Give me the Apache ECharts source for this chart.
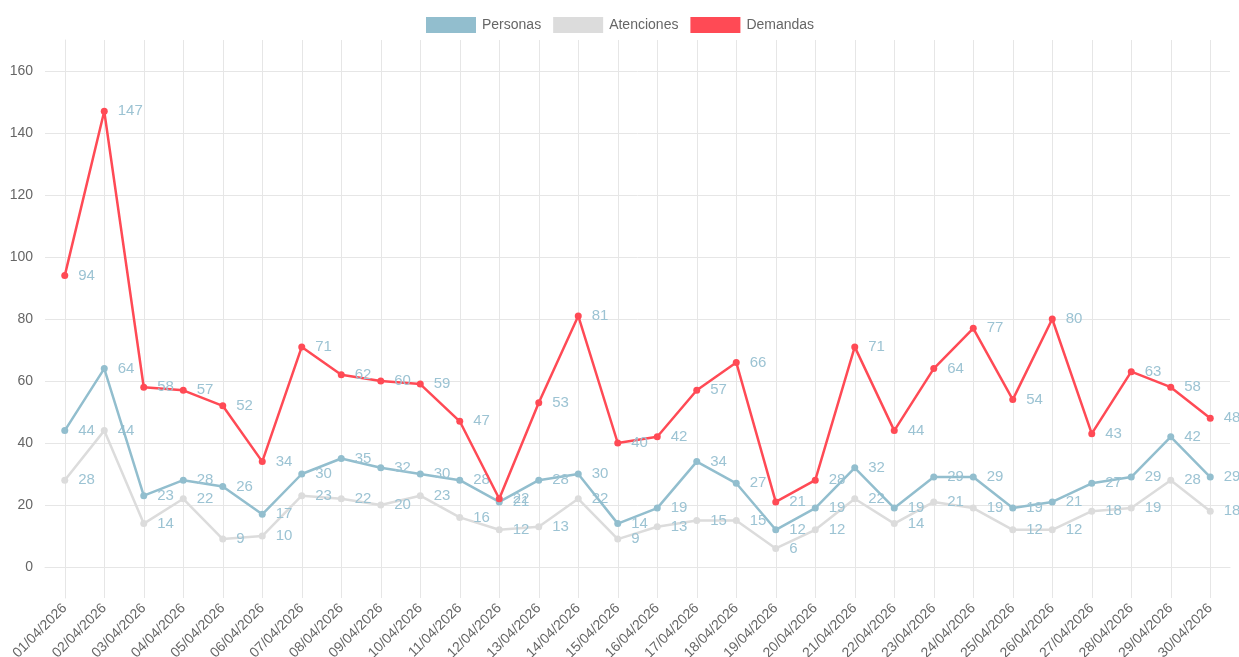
<!DOCTYPE html>
<html>
<head>
<meta charset="utf-8">
<script src="https://cdn.jsdelivr.net/npm/echarts@6/dist/echarts.min.js"></script>
<style>
  html, body { margin: 0; padding: 0; background: #fff; }
  #chart { width: 1239px; height: 657px; }
</style>
</head>
<body>
<div id="chart"></div>
<script>
var dates = ['01/04/2026', '02/04/2026', '03/04/2026', '04/04/2026', '05/04/2026', '06/04/2026',
    '07/04/2026', '08/04/2026', '09/04/2026', '10/04/2026', '11/04/2026', '12/04/2026',
    '13/04/2026', '14/04/2026', '15/04/2026', '16/04/2026', '17/04/2026', '18/04/2026',
    '19/04/2026', '20/04/2026', '21/04/2026', '22/04/2026', '23/04/2026', '24/04/2026',
    '25/04/2026', '26/04/2026', '27/04/2026', '28/04/2026', '29/04/2026', '30/04/2026'];
var personas = [44, 64, 23, 28, 26, 17, 30, 35, 32, 30, 28, 21, 28, 30, 14, 19, 34, 27, 12, 19, 32, 19, 29, 29, 19, 21, 27, 29, 42, 29];
var atenciones = [28, 44, 14, 22, 9, 10, 23, 22, 20, 23, 16, 12, 13, 22, 9, 13, 15, 15, 6, 12, 22, 14, 21, 19, 12, 12, 18, 19, 28, 18];
var demandas = [94, 147, 58, 57, 52, 34, 71, 62, 60, 59, 47, 22, 53, 81, 40, 42, 57, 66, 21, 28, 71, 44, 64, 77, 54, 80, 43, 63, 58, 48];

var font = "'Liberation Sans', Arial, sans-serif";
var gridColor = '#e6e6e6';
var labelColor = '#9cc3d3';

function makeSeries(name, data, color, z) {
    return {
        name: name,
        type: 'line',
        data: data,
        z: z,
        symbol: 'circle',
        symbolSize: 7,
        lineStyle: { width: 2.5, color: color },
        itemStyle: { color: color },
        label: {
            show: true,
            position: 'right',
            distance: 10,
            color: labelColor,
            fontSize: 15,
            fontFamily: font
        },
        animation: false
    };
}

var myChart = echarts.init(document.getElementById('chart'));
var option = {
    backgroundColor: '#fff',
    textStyle: { fontFamily: font },
    legend: {
        top: 12,
        left: 421,
        icon: 'rect',
        itemWidth: 50,
        itemHeight: 16,
        itemGap: 12,
        textStyle: { color: '#666', fontSize: 14, fontFamily: font, padding: [0, 0, 0, 1] },
        data: ['Personas', 'Atenciones', 'Demandas']
    },
    grid: { left: 45, right: 9, top: 40, bottom: 59, containLabel: false, outerBoundsMode: 'none' },
    xAxis: [
        {
            type: 'category',
            data: dates,
            boundaryGap: true,
            axisLine: { show: true, lineStyle: { color: gridColor, width: 1 } },
            axisTick: { show: false },
            splitLine: { show: false },
            axisLabel: {
                rotate: 45,
                interval: 0,
                color: '#666',
                fontSize: 14,
                margin: 8,
                fontFamily: font
            }
        },
        {
            // helper axis: vertical grid lines through every category centre
            type: 'value',
            position: 'top',
            min: -0.5,
            max: 29.5,
            interval: 0.5,
            axisLine: { show: false },
            axisTick: { show: false },
            axisLabel: { show: false },
            splitLine: { show: true, lineStyle: { color: ['transparent', gridColor], width: 1 } }
        }
    ],
    yAxis: {
        type: 'value',
        min: -10,
        max: 170,
        interval: 10,
        axisLine: { show: true, lineStyle: { color: gridColor, width: 1 } },
        axisTick: { show: false },
        axisLabel: {
            color: '#666',
            fontSize: 14,
            margin: 12,
            fontFamily: font,
            formatter: function (v) {
                return (v % 20 === 0 && v >= 0 && v <= 160) ? String(v) : '';
            }
        },
        splitLine: { show: true, lineStyle: { color: ['transparent', gridColor], width: 1 } }
    },
    series: [
        makeSeries('Personas', personas, '#92bece', 4),
        makeSeries('Atenciones', atenciones, '#dcdcdc', 3),
        makeSeries('Demandas', demandas, '#ff4a55', 5)
    ]
};
myChart.setOption(option);
</script>
</body>
</html>
